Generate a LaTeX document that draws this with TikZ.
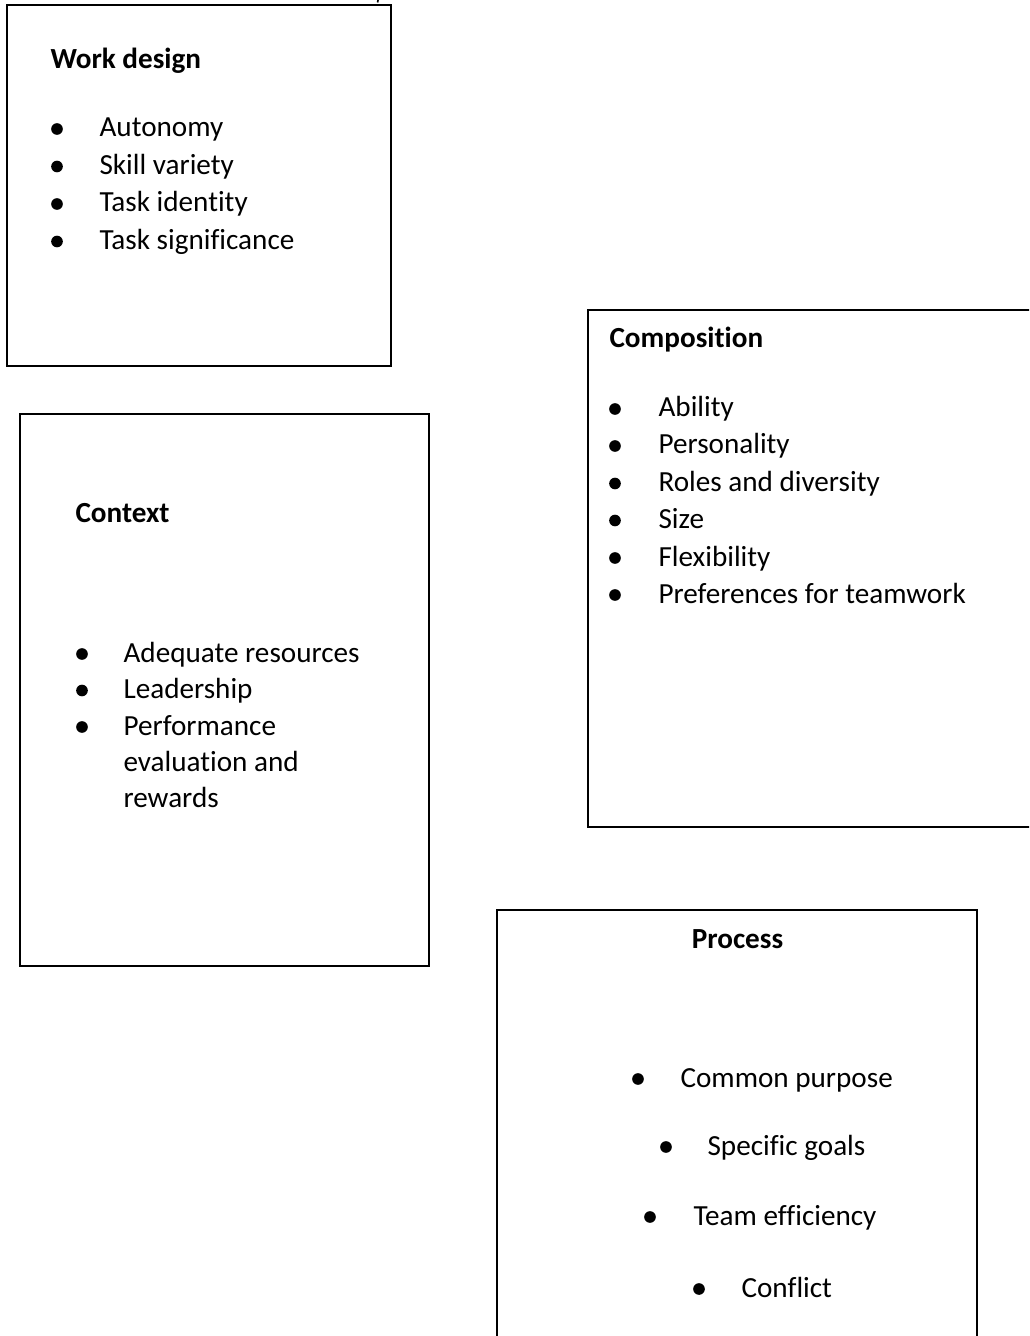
\documentclass[tikz,border=0pt]{standalone}
\usepackage{fontspec}
\setmainfont{Carlito}[RawFeature={-liga}]
\begin{document}
\begin{tikzpicture}[x=0.36pt,y=-0.36pt,
  panel/.style={draw=black,line width=0.65pt},
  thinpanel/.style={draw=black,line width=0.5pt},
  heading/.style={font=\bfseries\fontsize{10.5}{12.6}\selectfont,anchor=base west,inner sep=0pt},
  item/.style={font=\fontsize{10.5}{12.6}\selectfont,anchor=base west,inner sep=0pt},
  bulletdot/.style={circle,fill=black,inner sep=0pt,minimum size=4.2pt}]
\useasboundingbox (0,0) rectangle (1029,1336);
\clip (0,0) rectangle (1029,1336);

% stray glyph fragment at the top edge
\draw[line width=0.6pt] (378,0) -- (377.6,2.5);

% ---- Work design ----
\draw[panel] (7,5) rectangle (391,366);
\node[heading] (wdh) at (50,68.5) {Work design};
\foreach \y/\t [count=\i] in {137/Autonomy,174.5/Skill variety,212/Task identity,249.5/Task significance}{
  \node[bulletdot] (wdb\i) at (57,\y-8) {};
  \node[item] (wdi\i) at (99,\y) {\t};
}

% ---- Context ----
\draw[panel] (20,414) rectangle (429,966);
\node[heading] (cxh) at (75,523) {Context};
\foreach \y/\t [count=\i] in {662/Adequate resources,698.5/Leadership,735/Performance}{
  \node[bulletdot] (cxb\i) at (82,\y-8) {};
  \node[item] (cxi\i) at (123,\y) {\t};
}
\node[item] (cxi4) at (123,771.5) {evaluation and};
\node[item] (cxi5) at (123,807) {rewards};

% ---- Composition ----
\draw[thinpanel] (588,310) rectangle (1040,827);
\node[heading] (cph) at (609,348) {Composition};
\foreach \y/\t [count=\i] in {417/Ability,454/Personality,491.5/Roles and diversity,528.5/Size,566/Flexibility,603/Preferences for teamwork}{
  \node[bulletdot] (cpb\i) at (615,\y-8) {};
  \node[item] (cpi\i) at (658,\y) {\t};
}

% ---- Process ----
\draw[thinpanel] (497,910) rectangle (977,1345);
\node[heading,anchor=base] (prh) at (737.5,948) {Process};
\foreach \bx/\tx/\y/\t [count=\i] in {638/680/1087/Common purpose,666/707/1155/Specific goals,650/693/1225/Team efficiency,699/741/1297/Conflict}{
  \node[bulletdot] (prb\i) at (\bx,\y-8) {};
  \node[item] (pri\i) at (\tx,\y) {\t};
}
\end{tikzpicture}
\end{document}
